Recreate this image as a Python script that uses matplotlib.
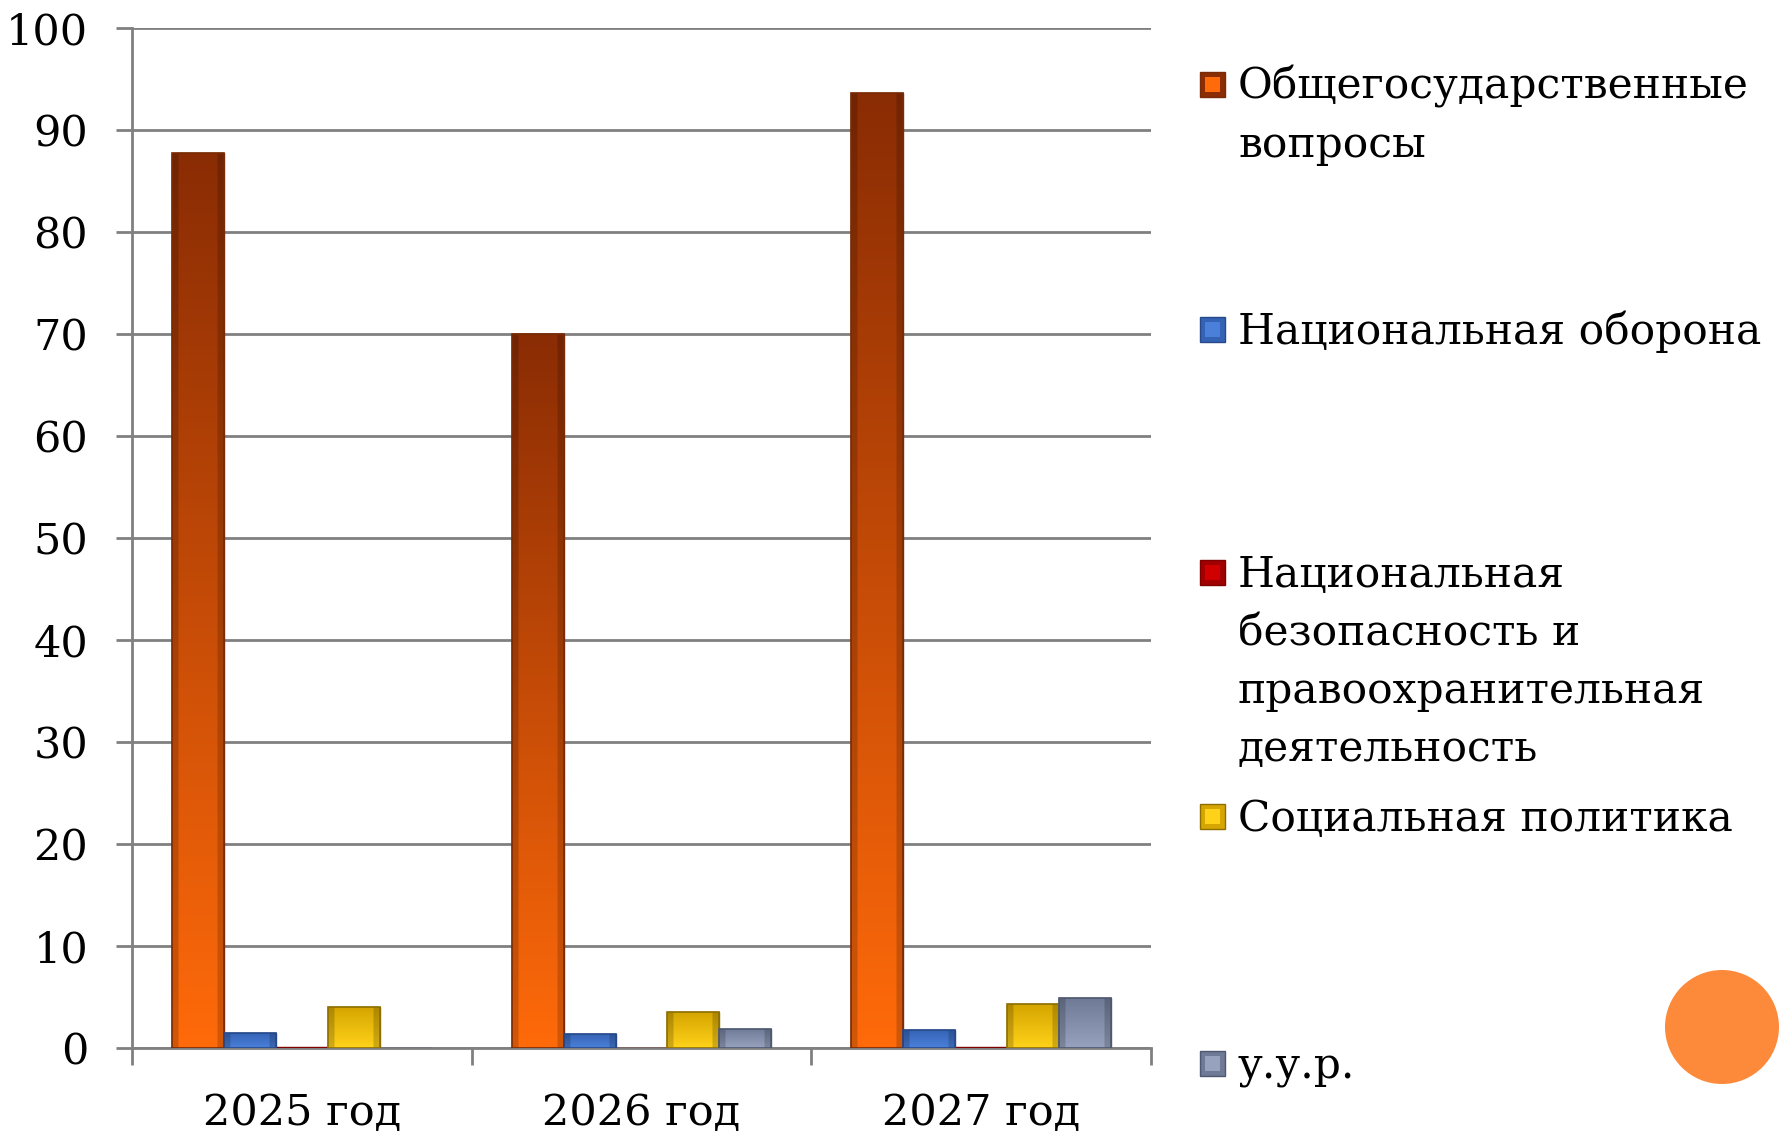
import matplotlib
matplotlib.use('Agg')
import numpy as np
import matplotlib.pyplot as plt
from matplotlib.colors import to_rgb
from matplotlib.patches import Rectangle, Circle

plt.rcParams['font.family'] = ['DejaVu Serif']

categories = ['2025 год', '2026 год', '2027 год']
series_names = ['Общегосударственные\nвопросы',
                'Национальная оборона',
                'Национальная\nбезопасность и\nправоохранительная\nдеятельность',
                'Социальная политика',
                'у.у.р.']
gov = [87.7, 70.0, 93.6]
defense = [1.5, 1.4, 1.8]
security = [0.08, 0.0, 0.08]
social = [4.0, 3.5, 4.3]
uur = [0.0, 1.9, 4.9]
yticks = list(range(0, 101, 10))

series = [gov, defense, security, social, uur]
# (bottom colour, top colour, edge colour)
palette = [('#FF6A0A', '#8A2C04', '#7A2A05'),
           ('#4B80DA', '#3462B4', '#27498A'),
           ('#D00000', '#A00000', '#800000'),
           ('#FFD21A', '#D5A500', '#8E6F00'),
           ('#97A3BE', '#6E7A96', '#4E5870')]

fig = plt.figure(figsize=(17.83, 11.35), dpi=100)
ax = fig.add_axes([132 / 1783, (1135 - 1048) / 1135, (1151 - 132) / 1783, (1048 - 28) / 1135])

x = np.arange(len(categories))
width = 0.153


def grad_img(bottom, top, n=128, m=40):
    b = np.array(to_rgb(bottom)); t = np.array(to_rgb(top))
    tt = np.linspace(0, 1, n)[:, None, None]
    img = b * (1 - tt) + t * tt
    img = np.repeat(img, m, axis=1)
    u = np.linspace(0, 1, m)
    shade = np.ones(m)
    shade[(u < 0.12) | (u > 0.88)] = 0.82
    img = img * shade[None, :, None]
    return np.clip(img, 0, 1)


for i, (vals, (cb, ct, ce)) in enumerate(zip(series, palette)):
    pos = x + (i - 2) * width
    bars = ax.bar(pos, vals, width, color=cb, edgecolor=ce, linewidth=1.0, zorder=3)
    for b in bars:
        h = b.get_height()
        if h <= 0.2:
            continue
        x0 = b.get_x()
        im = ax.imshow(grad_img(cb, ct), extent=[x0, x0 + width, 0, h], origin='lower',
                       aspect='auto', zorder=3.5, interpolation='bilinear')
        im.set_clip_path(b)
        ax.add_patch(Rectangle((x0, 0), width, h, fill=False, edgecolor=ce, lw=1.2, zorder=4))

ax.set_xlim(-0.5, 2.5)
ax.set_ylim(0, 100)
ax.set_yticks(yticks)
ax.yaxis.grid(True, color='#808080', lw=2.0)
ax.set_axisbelow(True)
ax.tick_params(axis='y', length=11.5, width=2.0, color='#808080', labelsize=31, pad=20)
ax.set_xticks(x)
ax.set_xticklabels(categories)
ax.set_xticks([-0.5, 0.5, 1.5, 2.5], minor=True)
ax.tick_params(axis='x', which='major', length=0, pad=32, labelsize=31)
ax.tick_params(axis='x', which='minor', length=12, width=2.0, color='#808080')
for s in ['top', 'right']:
    ax.spines[s].set_visible(False)
for s in ['left', 'bottom']:
    ax.spines[s].set_color('#808080')
    ax.spines[s].set_linewidth(2.0)

# overlay in pixel coordinates for legend and decoration
ov = fig.add_axes([0, 0, 1, 1])
ov.set_xlim(0, 1783)
ov.set_ylim(1135, 0)
ov.axis('off')
ov.patch.set_alpha(0)

first_line_centers = [84, 329, 572, 816, 1063]
line_step = 58
for name, (cb, ct, ce), yc in zip(series_names, palette, first_line_centers):
    ov.add_patch(Rectangle((1200, yc - 12.5), 25, 25, facecolor=ct, edgecolor=ce, lw=1))
    ov.add_patch(Rectangle((1205, yc - 7.5), 15, 15, facecolor=cb, edgecolor='none'))
    for k, line in enumerate(name.split('\n')):
        ov.text(1238, yc + k * line_step + 15, line, fontsize=30.5, va='baseline', ha='left',
                color='black')

ov.add_patch(Circle((1722, 1027), 57, facecolor='#FD8A3B', edgecolor='none'))

fig.savefig('out.png', dpi=100)
